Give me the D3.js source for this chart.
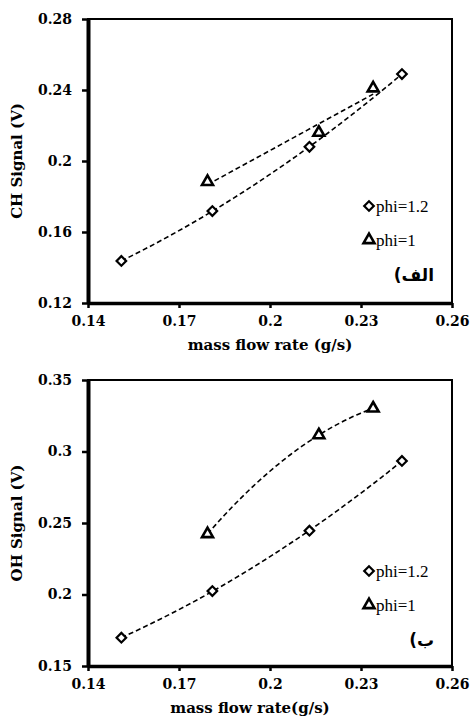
<!DOCTYPE html>
<html>
<head>
<meta charset="utf-8">
<script src="https://cdn.jsdelivr.net/npm/d3@7"></script>
<style>
  body { margin: 0; background: #fff; }
  .tick text { font-family: "DejaVu Serif", serif; font-weight: bold; font-size: 14px; fill: #000; }
  .lab { font-family: "DejaVu Serif", serif; font-weight: bold; font-size: 15px; fill: #000; }
  .leg { font-family: "Liberation Serif", "Times New Roman", serif; font-size: 17px; fill: #000; }
  .tag { font-family: "DejaVu Sans", sans-serif; font-weight: bold; font-size: 17px; fill: #000; }
</style>
</head>
<body>
<div id="chart"></div>
<script>
//Data
var xTicks = [0.14, 0.17, 0.2, 0.23, 0.26];
var chTicks = [0.12, 0.16, 0.2, 0.24, 0.28];
var ohTicks = [0.15, 0.2, 0.25, 0.3, 0.35];

var flowRich = [0.151, 0.181, 0.213, 0.2435];   // phi=1.2
var flowLean = [0.1794, 0.2161, 0.234];         // phi=1

var chRich = [0.1437, 0.1718, 0.208, 0.249];
var chLean = [0.1883, 0.216, 0.241];
var ohRich = [0.1698, 0.2024, 0.2446, 0.2934];
var ohLean = [0.2423, 0.3115, 0.3302];

var legendNames = ["phi=1.2", "phi=1"];

var W = 471, H = 719;
var svg = d3.select("#chart").append("svg")
    .attr("width", W)
    .attr("height", H);

// trend order: 1 = linear, 2 = polynomial (as in the excel trendlines)
var panels = [
  {top: 19,  bottom: 303, ticks: chTicks, rich: chRich, lean: chLean, order: [2, 1],
   ylab: "CH Signal (V)", xlab: "mass flow rate (g/s)", tag: "الف)"},
  {top: 380, bottom: 666, ticks: ohTicks, rich: ohRich, lean: ohLean, order: [2, 2],
   ylab: "OH Signal (V)", xlab: "mass flow rate(g/s)", tag: "ب)"}
];

var left = 88, right = 452;

// least squares polynomial trend of order 1 or 2
function polyfit(xs, ys, order) {
  var n = xs.length, mx = d3.mean(xs), m = order + 1;
  var s = [0,0,0,0,0], t = [0,0,0];
  for (var i = 0; i < n; i++) {
    var u = xs[i] - mx, p = 1;
    for (var k = 0; k < 5; k++) { s[k] += p; if (k < 3) t[k] += p * ys[i]; p *= u; }
  }
  var A = [];
  for (var r = 0; r < m; r++) {
    A[r] = [];
    for (var c = 0; c < m; c++) A[r][c] = s[r + c];
    A[r][m] = t[r];
  }
  for (var c2 = 0; c2 < m; c2++) {
    for (var r2 = c2 + 1; r2 < m; r2++) {
      var f = A[r2][c2] / A[c2][c2];
      for (var j = c2; j <= m; j++) A[r2][j] -= f * A[c2][j];
    }
  }
  var b = [0,0,0];
  for (var r3 = m - 1; r3 >= 0; r3--) {
    var v = A[r3][m];
    for (var j2 = r3 + 1; j2 < m; j2++) v -= A[r3][j2] * b[j2];
    b[r3] = v / A[r3][r3];
  }
  return function(x) { var u = x - mx; return b[0] + b[1]*u + b[2]*u*u; };
}

var diamond = d3.symbol().type(d3.symbolSquare).size(46);
var triangle = d3.symbol().type(d3.symbolTriangle).size(52);

panels.forEach(function(p) {
  var x = d3.scaleLinear().domain([xTicks[0], xTicks[xTicks.length-1]]).range([left, right]);
  var y = d3.scaleLinear().domain([p.ticks[0], p.ticks[p.ticks.length-1]]).range([p.bottom, p.top]);
  var g = svg.append("g");

  // thin frame (top, right)
  g.append("rect")
      .attr("x", left).attr("y", p.top)
      .attr("width", right - left).attr("height", p.bottom - p.top)
      .attr("fill", "none").attr("stroke", "#000").attr("stroke-width", 2);

  var yAxis = d3.axisLeft(y).tickValues(p.ticks).tickSize(6).tickSizeOuter(0)
      .tickPadding(10).tickFormat(function(d){ return String(d); });
  var ya = g.append("g").attr("transform", "translate(" + left + ",0)").call(yAxis);
  ya.select(".domain").attr("stroke-width", 4);
  ya.selectAll(".tick line").attr("stroke-width", 2.5);

  var xAxis = d3.axisBottom(x).tickValues(xTicks).tickSize(5).tickSizeOuter(0)
      .tickPadding(8).tickFormat(function(d){ return String(d); });
  var xa = g.append("g").attr("transform", "translate(0," + p.bottom + ")").call(xAxis);
  xa.select(".domain").attr("stroke-width", 3.5);
  xa.selectAll(".tick line").attr("stroke-width", 2.5);

  // trend lines
  var series = [{xs: flowRich, ys: p.rich, order: p.order[0]}, {xs: flowLean, ys: p.lean, order: p.order[1]}];
  series.forEach(function(s) {
    var fit = polyfit(s.xs, s.ys, s.order);
    var lo = d3.min(s.xs), hi = d3.max(s.xs);
    var pts = d3.range(0, 41).map(function(i){ var xv = lo + (hi - lo) * i / 40; return [x(xv), y(fit(xv))]; });
    g.append("path")
        .attr("d", d3.line()(pts))
        .attr("fill", "none").attr("stroke", "#000")
        .attr("stroke-width", 1.6).attr("stroke-dasharray", "5,3");
  });

  // markers
  g.selectAll(".rich").data(p.rich).enter().append("path")
      .attr("d", diamond)
      .attr("transform", function(d, i){ return "translate(" + x(flowRich[i]) + "," + y(d) + ") rotate(45)"; })
      .attr("fill", "#fff").attr("stroke", "#000").attr("stroke-width", 2.2);
  g.selectAll(".lean").data(p.lean).enter().append("path")
      .attr("d", triangle)
      .attr("transform", function(d, i){ return "translate(" + x(flowLean[i]) + "," + y(d) + ")"; })
      .attr("fill", "#fff").attr("stroke", "#000").attr("stroke-width", 2.6);

  // legend
  var ly = p.top + (p.top < 100 ? 187 : 191);
  g.append("path").attr("d", diamond)
      .attr("transform", "translate(369," + ly + ") rotate(45)")
      .attr("fill", "#fff").attr("stroke", "#000").attr("stroke-width", 2.2);
  g.append("text").attr("class", "leg").attr("x", 376).attr("y", ly + 6).text(legendNames[0]);
  g.append("path").attr("d", triangle)
      .attr("transform", "translate(369," + (ly + 34) + ")")
      .attr("fill", "#fff").attr("stroke", "#000").attr("stroke-width", 2.6);
  g.append("text").attr("class", "leg").attr("x", 376).attr("y", ly + 40).text(legendNames[1]);
  g.append("text").attr("class", "tag").attr("x", 434).attr("y", ly + 75)
      .attr("text-anchor", "start").attr("direction", "rtl").text(p.tag);

  // axis titles
  g.append("text").attr("class", "lab")
      .attr("text-anchor", "middle")
      .attr("transform", "translate(22," + (p.top + p.bottom) / 2 + ") rotate(-90)")
      .text(p.ylab);
  g.append("text").attr("class", "lab")
      .attr("text-anchor", "middle")
      .attr("x", (left + right) / 2 + (p.top < 100 ? 0 : -20))
      .attr("y", p.bottom + 47)
      .text(p.xlab);
});
</script>
</body>
</html>
